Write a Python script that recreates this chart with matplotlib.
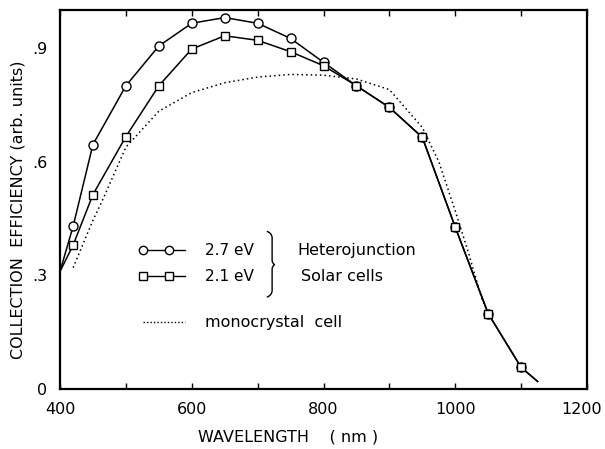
import matplotlib
matplotlib.use("Agg")
import matplotlib.pyplot as plt
import matplotlib.transforms as mtransforms
from matplotlib.path import Path
from matplotlib.patches import PathPatch

plt.rcParams['font.family'] = ['DejaVu Sans']

# Measured collection efficiency (arb. units) vs wavelength (nm)
wavelength = [420, 450, 500, 550, 600, 650, 700, 750, 800, 850, 900, 950, 1000, 1050, 1100]
eff_27ev = [0.43, 0.645, 0.80, 0.905, 0.965, 0.98, 0.965, 0.925, 0.862, 0.80, 0.743, 0.664, 0.427, 0.199, 0.057]
eff_21ev = [0.38, 0.513, 0.666, 0.80, 0.897, 0.932, 0.92, 0.89, 0.853, 0.80, 0.743, 0.664, 0.427, 0.199, 0.057]

# Curve end points (no measured marker)
curve_start = (400, 0.31)
curve_end = (1125, 0.02)

# Monocrystal reference cell
wl_mono = [420, 435, 450, 465, 500, 550, 600, 650, 700, 750, 800, 850, 900, 950, 975, 1000, 1020, 1040, 1050]
eff_mono = [0.32, 0.383, 0.445, 0.50, 0.638, 0.733, 0.782, 0.808, 0.823, 0.830, 0.828, 0.818, 0.79, 0.69, 0.60, 0.47, 0.36, 0.24, 0.20]

x_ticks = [400, 600, 800, 1000, 1200]
x_minor = [500, 700, 900, 1100]
y_ticks = [0, 0.3, 0.6, 0.9]
y_labels = ['0', '.3', '.6', '.9']

W, H = 605, 449
fig = plt.figure(figsize=(W / 100, H / 100), dpi=100)
ax = fig.add_axes([60 / W, 1 - 389 / H, 527 / W, 379 / H])

def full(series):
    return ([curve_start[0]] + wavelength + [curve_end[0]],
            [curve_start[1]] + series + [curve_end[1]])

xs, ys = full(eff_27ev)
ax.plot(xs, ys, color='black', lw=1.1, zorder=2)
ax.plot(wavelength, eff_27ev, ls='none', marker='o', ms=6.5, mfc='white', mec='black', mew=1.0, zorder=3)

xs, ys = full(eff_21ev)
ax.plot(xs, ys, color='black', lw=1.1, zorder=2)
ax.plot(wavelength, eff_21ev, ls='none', marker='s', ms=6.0, mfc='white', mec='black', mew=1.0, zorder=4)

ax.plot(wl_mono, eff_mono, color='black', lw=1.1, ls=(0, (1, 2)), zorder=1)

ax.set_xlim(400, 1200)
ax.set_ylim(0, 1.0)
ax.set_xticks(x_ticks)
ax.set_xticks(x_minor, minor=True)
ax.set_yticks(y_ticks)
ax.set_yticklabels(y_labels)
ax.tick_params(axis='x', which='both', direction='in', top=True, length=4, width=1, labelsize=11.5, pad=9)
ax.tick_params(axis='y', length=0, labelsize=11.5, pad=9)
for s in ax.spines.values():
    s.set_linewidth(1.6)

# keep the last wavelength label inside the figure
last = ax.get_xticklabels()[-1]
last.set_transform(last.get_transform() + mtransforms.ScaledTranslation(-5 / 100, 0, fig.dpi_scale_trans))

fig.text(198 / W, 1 - 437 / H, 'WAVELENGTH    ( nm )', fontsize=11.5, ha='left', va='center')
fig.text(18 / W, 1 - 210 / H, 'COLLECTION  EFFICIENCY (arb. units)', fontsize=11.5,
         rotation=90, ha='center', va='center')

# Legend drawn in data coordinates inside the axes
def sample(y, marker):
    ax.plot([521, 590], [y, y], color='black', lw=1.0, zorder=5)
    ax.plot([526, 565], [y, y], ls='none', marker=marker, ms=6, mfc='white', mec='black', mew=1.0, zorder=6)

sample(0.366, 'o')
sample(0.297, 's')
ax.text(620, 0.366, '2.7 eV', fontsize=11, va='center')
ax.text(620, 0.297, '2.1 eV', fontsize=11, va='center')
ax.text(760, 0.366, 'Heterojunction', fontsize=11.5, va='center')
ax.text(766, 0.297, 'Solar cells', fontsize=11.5, va='center')
ax.plot([526, 590], [0.176, 0.176], color='black', lw=1.0, ls=(0, (1, 1.5)))
ax.text(620, 0.176, 'monocrystal  cell', fontsize=11.5, va='center')

# Curly brace grouping the two heterojunction entries
brace = Path(
    [(714, 0.416), (721, 0.412), (722, 0.40), (722, 0.39),
     (722, 0.34), (722, 0.331), (726, 0.328),
     (722, 0.325), (722, 0.316), (722, 0.30),
     (722, 0.26), (722, 0.248), (714, 0.242)],
    [Path.MOVETO, Path.CURVE3, Path.CURVE3, Path.LINETO,
     Path.LINETO, Path.CURVE3, Path.CURVE3,
     Path.CURVE3, Path.CURVE3, Path.LINETO,
     Path.LINETO, Path.CURVE3, Path.CURVE3])
ax.add_patch(PathPatch(brace, fill=False, color='black', lw=1.0))

fig.savefig('out.png', dpi=100)
